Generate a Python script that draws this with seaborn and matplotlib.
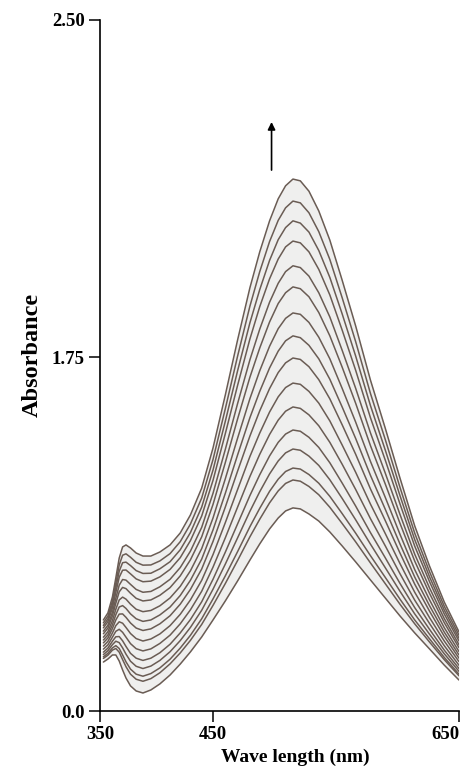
import numpy as np
import pandas as pd
import matplotlib
matplotlib.use("Agg")
import matplotlib.pyplot as plt
import seaborn as sns

# Wavelengths (nm) at which each absorption spectrum is sampled
wavelength = [353, 357, 361, 364, 367, 370, 373, 377, 382, 388, 395, 403, 412, 421, 430, 440,
              450, 460, 470, 480, 488, 496, 503, 509, 515, 521, 528, 536, 545, 555, 566, 578,
              590, 602, 614, 626, 638, 650]

# Absorbance spectra of the titration, from the last addition down to the first
spectrum_16 = [.450, .485, .564, .658, .756, .811, .821, .806, .781, .766, .766, .786, .821, .880,
               .969, 1.102, 1.300, 1.562, 1.788, 1.904, 1.984, 2.053, 2.102, 2.131, 2.146, 2.142,
               2.119, 2.075, 2.010, 1.921, 1.819, 1.636, 1.399, 1.152, .915, .717, .539, .391]
spectrum_15 = [.436, .469, .544, .632, .722, .770, .777, .760, .735, .721, .722, .742, .778, .837,
               .924, 1.053, 1.243, 1.494, 1.752, 1.863, 1.940, 2.007, 2.054, 2.082, 2.097, 2.093,
               2.071, 2.029, 1.967, 1.882, 1.784, 1.570, 1.343, 1.106, .879, .689, .518, .375]
spectrum_14 = [.423, .455, .527, .609, .691, .733, .736, .719, .694, .680, .681, .703, .738, .797,
               .882, 1.008, 1.191, 1.432, 1.682, 1.826, 1.900, 1.965, 2.011, 2.038, 2.053, 2.048,
               2.028, 1.987, 1.927, 1.846, 1.752, 1.510, 1.291, 1.065, .847, .664, .499, .360]
spectrum_13 = [.411, .442, .510, .586, .661, .696, .697, .678, .653, .639, .642, .663, .700, .758,
               .842, .964, 1.140, 1.371, 1.610, 1.790, 1.862, 1.924, 1.968, 1.995, 2.008, 2.004,
               1.984, 1.945, 1.888, 1.810, 1.684, 1.450, 1.241, 1.024, .815, .640, .480, .346]
spectrum_12 = [.395, .424, .488, .557, .622, .650, .647, .626, .601, .587, .591, .614, .651, .709,
               .790, .908, 1.076, 1.293, 1.520, 1.736, 1.812, 1.872, 1.914, 1.940, 1.953, 1.949,
               1.930, 1.893, 1.839, 1.765, 1.595, 1.375, 1.177, .972, .775, .609, .457, .328]
spectrum_11 = [.382, .410, .470, .533, .589, .611, .605, .582, .557, .544, .549, .572, .610, .668,
               .747, .861, 1.021, 1.228, 1.444, 1.650, 1.770, 1.828, 1.869, 1.893, 1.906, 1.902,
               1.884, 1.849, 1.797, 1.700, 1.521, 1.312, 1.123, .928, .741, .582, .437, .313]
spectrum_10 = [.365, .392, .447, .503, .549, .563, .553, .528, .503, .491, .497, .520, .559, .616,
               .693, .803, .954, 1.148, 1.349, 1.544, 1.682, 1.774, 1.813, 1.836, 1.848, 1.845,
               1.827, 1.794, 1.741, 1.595, 1.428, 1.234, 1.057, .874, .699, .550, .412, .294]
spectrum_09 = [.351, .376, .427, .476, .514, .521, .507, .480, .456, .443, .450, .475, .514, .571,
               .646, .751, .895, 1.076, 1.266, 1.450, 1.580, 1.696, 1.763, 1.786, 1.797, 1.793,
               1.776, 1.741, 1.640, 1.503, 1.347, 1.165, .998, .826, .662, .521, .390, .277]
spectrum_08 = [.337, .361, .408, .450, .479, .480, .463, .435, .410, .398, .406, .431, .471, .528,
               .601, .702, .838, 1.008, 1.186, 1.359, 1.484, 1.594, 1.673, 1.721, 1.745, 1.738,
               1.702, 1.638, 1.543, 1.415, 1.269, 1.098, .942, .781, .627, .494, .369, .261]
spectrum_07 = [.321, .344, .386, .422, .441, .434, .413, .383, .358, .346, .356, .381, .422, .478,
               .549, .646, .773, .931, 1.095, 1.258, 1.374, 1.478, 1.553, 1.599, 1.621, 1.615,
               1.580, 1.522, 1.434, 1.315, 1.180, 1.023, .878, .729, .587, .462, .346, .244]
spectrum_06 = [.306, .327, .365, .394, .404, .389, .365, .333, .308, .297, .307, .334, .375, .431,
               .500, .592, .711, .856, 1.008, 1.159, 1.269, 1.367, 1.438, 1.482, 1.503, 1.496,
               1.464, 1.410, 1.328, 1.220, 1.095, .951, .817, .679, .548, .433, .323, .226]
spectrum_05 = [.291, .311, .345, .367, .368, .347, .319, .285, .261, .250, .261, .288, .330, .386,
               .452, .540, .651, .785, .925, 1.065, 1.168, 1.261, 1.328, 1.369, 1.389, 1.383,
               1.353, 1.303, 1.227, 1.127, 1.013, .882, .758, .631, .511, .404, .301, .210]
spectrum_04 = [.279, .298, .328, .345, .338, .312, .281, .246, .221, .210, .222, .250, .293, .348,
               .413, .498, .602, .726, .856, .987, 1.084, 1.172, 1.236, 1.276, 1.295, 1.289,
               1.260, 1.214, 1.143, 1.051, .945, .825, .709, .592, .480, .380, .283, .196]
spectrum_03 = [.268, .285, .312, .323, .309, .277, .243, .207, .182, .172, .185, .213, .256, .311,
               .374, .456, .554, .668, .788, .911, 1.002, 1.086, 1.146, 1.184, 1.201, 1.196,
               1.169, 1.126, 1.061, .976, .879, .768, .661, .553, .450, .357, .265, .182]
spectrum_02 = [.260, .276, .301, .309, .291, .254, .219, .182, .157, .147, .160, .189, .233, .287,
               .349, .428, .522, .630, .744, .861, .948, 1.029, 1.088, 1.125, 1.142, 1.136,
               1.110, 1.069, 1.007, .927, .836, .732, .630, .528, .431, .341, .254, .174]
spectrum_01 = [.242, .257, .277, .277, .247, .203, .163, .124, .099, .089, .104, .134, .178, .232,
               .292, .366, .450, .544, .643, .746, .826, .900, .954, .989, 1.004, .999,
               .974, .939, .885, .816, .737, .648, .559, .470, .386, .307, .227, .153]

spectra = [spectrum_01, spectrum_02, spectrum_03, spectrum_04, spectrum_05, spectrum_06,
           spectrum_07, spectrum_08, spectrum_09, spectrum_10, spectrum_11, spectrum_12,
           spectrum_13, spectrum_14, spectrum_15, spectrum_16]

x_ticks = [350, 450, 650]
x_tick_labels = ["350", "450", "650"]
y_ticks = [0.0, 1.75, 2.50]
y_tick_labels = ["0.0", "1.75", "2.50"]

df = pd.concat(
    [pd.DataFrame({"wavelength": wavelength, "absorbance": s, "step": i + 1})
     for i, s in enumerate(spectra)],
    ignore_index=True,
)


# Piecewise-linear axis scales (the printed axes are not evenly spaced)
def fwd_x(x):
    x = np.asarray(x, dtype=float)
    return np.where(x < 450, (x - 350) * 1.13, 113 + (x - 450) * 1.23)


def inv_x(u):
    u = np.asarray(u, dtype=float)
    return np.where(u < 113, 350 + u / 1.13, 450 + (u - 113) / 1.23)


def fwd_y(a):
    a = np.asarray(a, dtype=float)
    return np.where(a < 1.75, a * (354 / 1.75), 354 + (a - 1.75) * (337 / 0.75))


def inv_y(u):
    u = np.asarray(u, dtype=float)
    return np.where(u < 354, u * (1.75 / 354), 1.75 + (u - 354) * (0.75 / 337))


sns.set_style("ticks")
plt.rcParams["font.family"] = ["Liberation Serif", "DejaVu Serif"]
plt.rcParams["font.weight"] = "bold"

line_color = "#6a5c54"
fill_color = "#efefee"

fig = plt.figure(figsize=(4.63, 7.71), dpi=100)
ax = fig.add_axes([100 / 463, 60 / 771, 359 / 463, 691 / 771])

ax.fill_between(wavelength, spectrum_01, spectrum_16, color=fill_color, lw=0, zorder=0)
sns.lineplot(data=df, x="wavelength", y="absorbance", units="step", estimator=None,
             sort=False, color=line_color, lw=1.1, legend=False, ax=ax)

ax.set_xscale("function", functions=(fwd_x, inv_x))
ax.set_yscale("function", functions=(fwd_y, inv_y))
ax.set_xlim(350, 650)
ax.set_ylim(0, 2.5)

ax.set_xticks(x_ticks)
ax.set_xticklabels(x_tick_labels)
ax.set_yticks(y_ticks)
ax.set_yticklabels(y_tick_labels)
ax.minorticks_off()
ax.tick_params(axis="both", direction="out", length=8, width=1.1, color="black",
               labelsize=13.5, pad=3, labelcolor="black")
ax.get_xticklabels()[-1].set_horizontalalignment("right")

for side in ("top", "right"):
    ax.spines[side].set_visible(False)
for side in ("left", "bottom"):
    ax.spines[side].set_linewidth(1.2)
    ax.spines[side].set_color("black")

ax.set_xlabel("Wave length (nm)", fontsize=14, fontweight="bold", color="black")
ax.set_ylabel("Absorbance", fontsize=17.5, fontweight="bold", color="black")
ax.xaxis.set_label_coords((295 - 100) / 359, -0.055)
ax.yaxis.set_label_coords(-0.16, (711 - 355) / 691)

# Arrow showing the direction of increasing absorbance
ax.annotate("", xy=(497.6, 2.273), xytext=(497.6, 2.166),
            arrowprops=dict(arrowstyle="-|>", color="black", lw=1.2, mutation_scale=11,
                            shrinkA=0, shrinkB=0))

fig.savefig("out.png", dpi=100, facecolor="white")
